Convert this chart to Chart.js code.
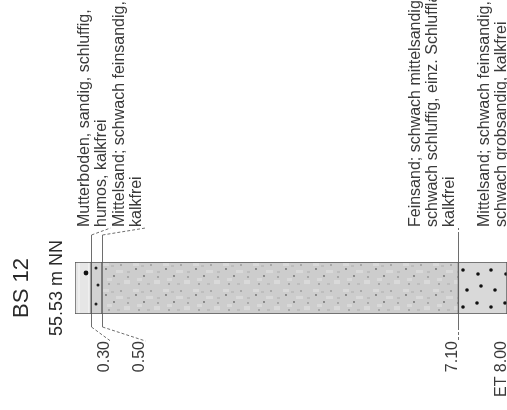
<!DOCTYPE html>
<html>
<head>
<meta charset="utf-8">
<script src="https://cdn.jsdelivr.net/npm/chart.js@4"></script>
<style>
html,body{margin:0;padding:0;background:#fff;overflow:hidden}
#c{display:block}
</style>
</head>
<body>
<canvas id="c" width="507" height="410"></canvas>
<script>
// ---------- data ----------
const boreholeName = "BS 12";
const elevationLabel = "55.53 m NN";
const soilTypes = ["Mutterboden", "Mittelsand", "Feinsand", "Mittelsand"];
const layerTops = [0.00, 0.30, 0.50, 7.10];
const layerBottoms = [0.30, 0.50, 7.10, 8.00];
const depthTickLabels = ["0.30", "0.50", "7.10", "ET 8.00"];
const layerDescriptions = [
  ["Mutterboden, sandig, schluffig,", "humos, kalkfrei"],
  ["Mittelsand; schwach feinsandig,", "kalkfrei"],
  ["Feinsand; schwach mittelsandig,", "schwach schluffig, einz. Schlufflagen,", "kalkfrei"],
  ["Mittelsand; schwach feinsandig,", "schwach grobsandig, kalkfrei"]
];

// ---------- soil hatch tiles (style only) ----------
function makeTile(w, h, base, draw) {
  const c = document.createElement('canvas');
  c.width = w; c.height = h;
  const g = c.getContext('2d');
  g.fillStyle = base; g.fillRect(0, 0, w, h);
  draw(g);
  return c;
}
function dot(g, x, y, r, col) {
  g.fillStyle = col; g.beginPath(); g.arc(x, y, r, 0, Math.PI * 2); g.fill();
}
const tiles = [
  makeTile(17, 52, '#e6e6e6', g => {
    g.fillStyle = '#efefef'; g.fillRect(3, 0, 2, 52); g.fillRect(13, 0, 1, 52);
    dot(g, 11, 11, 2.4, '#111');
  }),
  makeTile(11, 52, '#d2d2d2', g => {
    dot(g, 5, 6, 1.5, '#222'); dot(g, 7, 23, 1.5, '#222'); dot(g, 5, 42, 1.5, '#222');
  }),
  makeTile(30, 26, '#cdcdcd', g => {
    g.fillStyle = '#d9d9d9';
    g.fillRect(1, 1, 6, 3); g.fillRect(14, 8, 7, 3); g.fillRect(22, 18, 6, 4); g.fillRect(5, 16, 5, 3);
    g.fillStyle = '#bdbdbd';
    g.fillRect(9, 3, 3, 2); g.fillRect(25, 9, 3, 2); g.fillRect(15, 21, 3, 2);
    dot(g, 4, 7, 0.9, '#6a6a6a'); dot(g, 19, 3, 0.8, '#7a7a7a'); dot(g, 12, 14, 0.9, '#6a6a6a');
    dot(g, 26, 15, 0.8, '#777'); dot(g, 7, 22, 0.8, '#777');
  }),
  makeTile(28, 52, '#d9d9d9', g => {
    dot(g, 5, 8, 1.8, '#111'); dot(g, 20, 12, 1.8, '#111');
    dot(g, 9, 28, 1.8, '#111'); dot(g, 23, 24, 1.8, '#111');
    dot(g, 5, 45, 1.8, '#111'); dot(g, 19, 41, 1.8, '#111');
  })
];
const ctx = document.getElementById('c').getContext('2d');
const patterns = tiles.map(t => ctx.createPattern(t, 'repeat'));

function layerFill(i) {
  return (c) => {
    const chart = c.chart;
    const p = patterns[i];
    if (chart.scales && chart.scales.x && chart.chartArea) {
      const x0 = chart.scales.x.getPixelForValue(layerTops[i]);
      p.setTransform(new DOMMatrix().translate(Math.round(x0), chart.chartArea.top));
    }
    return p;
  };
}

// ---------- annotation plugin ----------
function vtext(g, str, x, y, align, baseline, font, color) {
  g.save();
  g.translate(x, y);
  g.rotate(-Math.PI / 2);
  g.font = font; g.fillStyle = color;
  g.textAlign = align; g.textBaseline = baseline;
  g.fillText(str, 0, 0);
  g.restore();
}

const logPlugin = {
  id: 'boreLog',
  afterDraw(chart) {
    const g = chart.ctx, a = chart.chartArea, x = chart.scales.x;
    const L = 17;
    const font = '16px "Liberation Sans", Arial, sans-serif';
    const col = '#3a3a3a';
    const last = layerBottoms.length - 1;

    // label blocks (avoid overlap, end-aligned to layer bottom)
    const ends = [];
    let prev = x.getPixelForValue(layerTops[0]);
    layerDescriptions.forEach((lines, i) => {
      const e = Math.max(x.getPixelForValue(layerBottoms[i]), prev + lines.length * L + 1);
      ends.push(e); prev = e;
    });

    // descriptions
    layerDescriptions.forEach((lines, i) => {
      const blockEnd = ends[i] + (i === last ? 3 : 0);
      lines.forEach((s, j) => {
        const cx = blockEnd - (lines.length - j - 0.5) * L;
        vtext(g, s, cx, a.top - 35, 'left', 'middle', font, col);
      });
    });

    // leaders
    g.save();
    g.strokeStyle = '#6e6e6e'; g.lineWidth = 1;
    layerBottoms.forEach((d, i) => {
      const bx = Math.round(x.getPixelForValue(d)) + 0.5;
      const ex = Math.round(ends[i]) + 0.5;
      if (i < last) {
        g.setLineDash([]);
        g.beginPath(); g.moveTo(bx, a.top); g.lineTo(bx, a.top - 27); g.stroke();
        g.setLineDash([3, 2]);
        g.beginPath(); g.moveTo(bx, a.top - 27); g.lineTo(ex, a.top - 34); g.stroke();
      }
      g.setLineDash([]);
      g.beginPath(); g.moveTo(bx, a.bottom); g.lineTo(bx, a.bottom + 13); g.stroke();
      g.setLineDash([3, 2]);
      g.beginPath(); g.moveTo(bx, a.bottom + 13); g.lineTo(ex, a.bottom + 27); g.stroke();
    });
    g.restore();

    // depth labels
    depthTickLabels.forEach((s, i) => {
      vtext(g, s, ends[i] - 1, a.bottom + 27, 'right', 'alphabetic', font, col);
    });

    // title, centred on the column
    const cy = (a.top + a.bottom) / 2;
    vtext(g, boreholeName, 28, cy, 'center', 'alphabetic', '22px "Liberation Sans", Arial, sans-serif', '#2a2a2a');
    vtext(g, elevationLabel, 62, cy, 'center', 'alphabetic', '18px "Liberation Sans", Arial, sans-serif', '#2a2a2a');
  }
};

new Chart(ctx, {
  type: 'bar',
  data: {
    labels: [boreholeName],
    datasets: layerTops.map((t, i) => ({
      label: soilTypes[i],
      data: [[t, layerBottoms[i]]],
      backgroundColor: layerFill(i),
      borderColor: '#555',
      borderWidth: 1,
      borderSkipped: false,
      grouped: false,
      barPercentage: 1,
      categoryPercentage: 1
    }))
  },
  options: {
    indexAxis: 'y',
    responsive: false,
    animation: false,
    layout: { padding: { left: 75, right: 0, top: 262, bottom: 96 } },
    scales: {
      x: { type: 'linear', min: 0, max: 8, display: false },
      y: { display: false }
    },
    plugins: { legend: { display: false }, tooltip: { enabled: false } }
  },
  plugins: [logPlugin]
});
</script>
</body>
</html>
